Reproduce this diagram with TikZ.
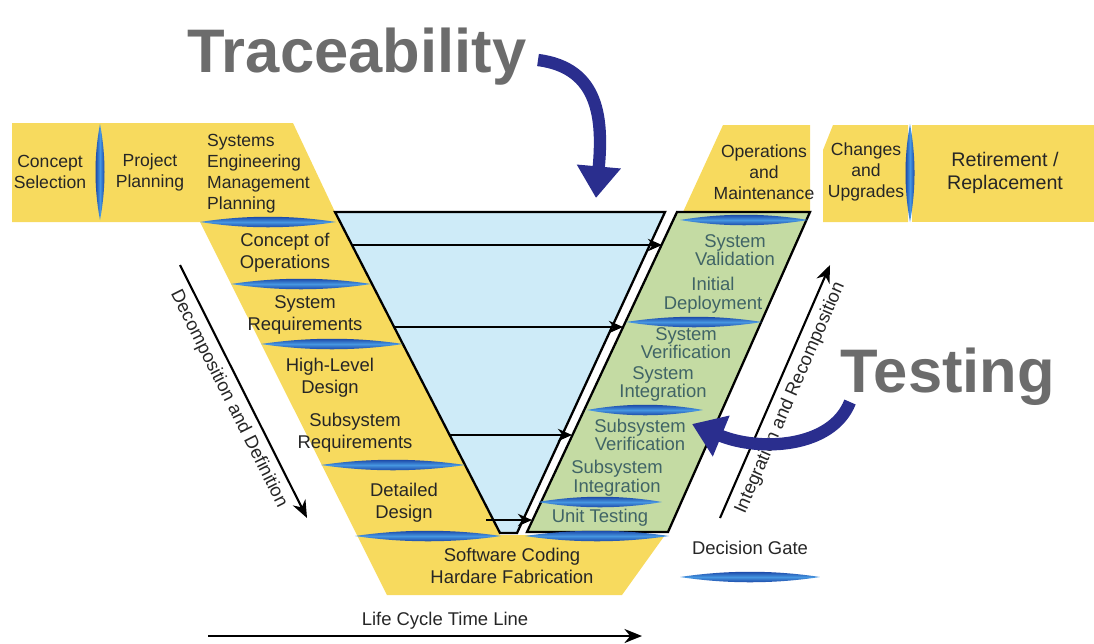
\documentclass[tikz,border=0pt]{standalone}
\usepackage{fontspec}
\setmainfont{Liberation Sans}
\usetikzlibrary{arrows.meta}

\definecolor{vyellow}{RGB}{247,218,94}
\definecolor{vblue}{RGB}{206,235,248}
\definecolor{vgreen}{RGB}{196,219,163}
\definecolor{vteal}{RGB}{64,100,102}
\definecolor{vnavy}{RGB}{42,46,142}
\definecolor{vgrey}{RGB}{108,108,108}
\definecolor{gatedark}{RGB}{14,48,150}
\definecolor{gatelight}{RGB}{70,150,225}

\tikzset{
  lbl/.style={align=center, text=black!85, font=\fontsize{10.5}{12.5}\selectfont},
  toplbl/.style={align=center, text=black!85, font=\fontsize{10}{12}\selectfont},
  glbl/.style={align=center, text=vteal, font=\fontsize{10.5}{10.5}\selectfont},
  biglbl/.style={text=vgrey, font=\fontsize{35}{35}\selectfont\bfseries, anchor=base},
  gate/.style={top color=gatedark, bottom color=gatedark, middle color=gatelight},
  vgatest/.style={left color=gatedark, right color=gatedark, middle color=gatelight},
  trace/.style={draw, line width=1.3pt, -{Stealth[length=8pt,width=7pt]}},
  timeline/.style={draw, line width=1.2pt, -{Stealth[length=10pt,width=8pt]}},
  bluearrow/.style={draw=vnavy, line width=7pt, -{Triangle[length=18pt,width=24pt]}},
}

% decision gates, lens shaped: centre x, centre y, half length
\newcommand{\hgate}[3]{\shade[gate] (#1-#3,#2) .. controls (#1-#3/3,#2-7) and (#1+#3/3,#2-7) .. (#1+#3,#2) .. controls (#1+#3/3,#2+7) and (#1-#3/3,#2+7) .. (#1-#3,#2);}
\newcommand{\vgate}[3]{\shade[vgatest] (#1,#2-#3) .. controls (#1+6,#2-#3/3) and (#1+6,#2+#3/3) .. (#1,#2+#3) .. controls (#1-6,#2+#3/3) and (#1-6,#2-#3/3) .. (#1,#2-#3);}

\begin{document}
\begin{tikzpicture}[x=0.02cm, y=-0.02cm]
    \useasboundingbox (0,0) rectangle (1094,643);

    % yellow bands
    \fill[vyellow] (12,123) -- (293,123) -- (335,212) -- (500,535) -- (665,535)
        -- (622,595) -- (387,595) -- (200,222) -- (12,222) -- cycle;
    \fill[vyellow] (723,125) -- (810,125) -- (810,212) -- (683,212) -- cycle;
    \fill[vyellow] (833,125) -- (908,125) -- (908,222) -- (823,222) -- (823,150) -- cycle;
    \fill[vyellow] (912,125) -- (1094,125) -- (1094,222) -- (912,222) -- cycle;

    % traceability funnel and testing arm
    \filldraw[fill=vblue, draw=black, line width=1.3pt] (335,212) -- (665,212) -- (517,533) -- (500,533) -- cycle;
    \filldraw[fill=vgreen, draw=black, line width=1.3pt] (677,212) -- (810,212) -- (668,532) -- (527,532) -- cycle;

    % gates
    \vgate{100}{172}{48}
    \vgate{910}{173}{49}
    \hgate{268}{222}{68}
    \hgate{301}{284}{70}
    \hgate{332}{344}{71}
    \hgate{393}{465}{72}
    \hgate{428}{536}{73}
    \hgate{744}{220}{64}
    \hgate{694}{322}{68}
    \hgate{645}{410}{58}
    \hgate{600}{502}{62}
    \hgate{597}{536}{72}
    \hgate{750}{577}{70}

    % traceability links
    \coordinate (t1a) at (352,245);
    \coordinate (t1b) at (662,245);
    \coordinate (t2a) at (394,327);
    \coordinate (t2b) at (623,327);
    \coordinate (t3a) at (450,435);
    \coordinate (t3b) at (572,435);
    \coordinate (t4a) at (486,520);
    \coordinate (t4b) at (532,520);
    \path[trace] (t1a) -- (t1b);
    \path[trace] (t2a) -- (t2b);
    \path[trace] (t3a) -- (t3b);
    \path[trace] (t4a) -- (t4b);

    % top band
    \node[toplbl] (csel) at (50,172) {Concept\\Selection};
    \node[toplbl] (pplan) at (150,172) {Project\\Planning};
    \node[toplbl, align=left, anchor=west] (semp) at (201,174) {Systems\\Engineering\\Management\\Planning};
    \node[toplbl] (opmt) at (764,172) {Operations\\and\\Maintenance};
    \node[toplbl] (chup) at (866,172) {Changes\\and\\Upgrades};
    \node[lbl, font=\fontsize{11.2}{13}\selectfont] (retire) at (1005,173) {Retirement /\\Replacement};

    % left arm
    \node[lbl] (conops) at (285,253) {Concept of\\Operations};
    \node[lbl] (sysreq) at (305,315) {System\\Requirements};
    \node[lbl] (hld) at (330,378) {High-Level\\Design};
    \node[lbl] (subreq) at (355,433) {Subsystem\\Requirements};
    \node[lbl] (dd) at (404,503) {Detailed\\Design};
    \node[lbl] (code) at (512,566) {Software Coding\\Hardare Fabrication};

    % right arm
    \node[glbl] (sysval) at (735,250) {System\\Validation};
    \node[glbl] (deploy) at (713,295) {Initial\\Deployment};
    \node[glbl] (sysver) at (686,343) {System\\Verification};
    \node[glbl] (sysint) at (663,384) {System\\Integration};
    \node[glbl] (subver) at (640,435) {Subsystem\\Verification};
    \node[glbl] (subint) at (617,478) {Subsystem\\Integration};
    \node[glbl] (unit) at (600,518) {Unit Testing};

    % side arrows
    \coordinate (dda) at (180,265);
    \coordinate (ddb) at (307,518);
    \path[timeline] (dda) -- (ddb) node[lbl, midway, sloped, below, inner sep=4pt] (ddlbl) {Decomposition and Definition};
    \coordinate (ira) at (720,518);
    \coordinate (irb) at (830,265);
    \path[timeline] (ira) -- (irb) node[lbl, midway, sloped, below, inner sep=4pt] (irlbl) {Integration and Recomposition};

    % legend and time line
    \node[lbl] (gatelbl) at (750,548) {Decision Gate};
    \node[lbl] (lclbl) at (445,621) {Life Cycle Time Line};
    \coordinate (lca) at (208,636);
    \coordinate (lcb) at (642,636);
    \path[timeline] (lca) -- (lcb);

    % headings
    \node[biglbl] (tracelbl) at (357,72) {Traceability};
    \node[biglbl] (testlbl) at (948,392) {Testing};

    \coordinate (tra) at (538,60);
    \coordinate (trb) at (596,198);
    \path[bluearrow] (tra) .. controls (600,68) and (603,120) .. (trb);
    \coordinate (tsa) at (850,402);
    \coordinate (tsb) at (692,424);
    \path[bluearrow] (tsa) .. controls (832,448) and (760,452) .. (tsb);
\end{tikzpicture}
\end{document}
